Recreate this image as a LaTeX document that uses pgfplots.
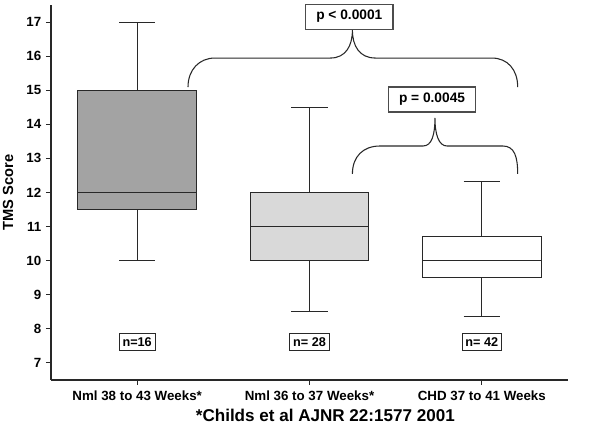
\documentclass[border=0pt]{standalone}
\usepackage{fontspec}
\setmainfont{Liberation Sans}
\usepackage{pgfplots}
\pgfplotsset{compat=1.18}
\definecolor{boxA}{RGB}{163,163,163}
\definecolor{boxB}{RGB}{217,217,217}
\definecolor{lin}{RGB}{40,40,40}
\tikzset{bp/.style={draw=lin, line width=0.8pt, mark=none, solid}}
\begin{document}
\begin{tikzpicture}
\useasboundingbox (0pt,0pt) rectangle (450pt,320.25pt);
\begin{axis}[
  at={(38.25pt,35.25pt)}, anchor=south west,
  scale only axis, width=387.75pt, height=281.25pt,
  xmin=-0.5, xmax=2.5, ymin=6.5, ymax=17.5,
  axis lines=left,
  axis line style={-, line width=0.8pt, color=lin},
  tick style={line width=0.8pt, color=lin},
  tick align=outside, major tick length=3.75pt,
  xtick={0,1,2},
  xticklabels={Nml 38 to 43 Weeks*, Nml 36 to 37 Weeks*, CHD 37 to 41 Weeks},
  ytick={7,8,...,17},
  /pgf/number format/assume math mode=true,
  ticklabel style={font=\bfseries\fontsize{10}{12}\selectfont},
  xticklabel style={yshift=-1pt},
  ylabel={TMS Score},
  ylabel style={font=\bfseries\fontsize{11}{13}\selectfont},
  ylabel shift=3pt,
  clip=false,
]
% group 1: whiskers 10/17, box 11.5-15, median 12
\addplot[bp] coordinates {(0,10) (0,11.5)};
\addplot[bp] coordinates {(0,15) (0,17)};
\addplot[bp] coordinates {(-0.105,10) (0.105,10)};
\addplot[bp] coordinates {(-0.105,17) (0.105,17)};
\addplot[bp, fill=boxA] coordinates {(-0.345,11.5) (0.345,11.5) (0.345,15) (-0.345,15) (-0.345,11.5)};
\addplot[bp] coordinates {(-0.345,12) (0.345,12)};
% group 2: whiskers 8.5/14.5, box 10-12, median 11
\addplot[bp] coordinates {(1,8.5) (1,10)};
\addplot[bp] coordinates {(1,12) (1,14.5)};
\addplot[bp] coordinates {(0.895,8.5) (1.105,8.5)};
\addplot[bp] coordinates {(0.895,14.5) (1.105,14.5)};
\addplot[bp, fill=boxB] coordinates {(0.655,10) (1.345,10) (1.345,12) (0.655,12) (0.655,10)};
\addplot[bp] coordinates {(0.655,11) (1.345,11)};
% group 3: whiskers 8.35/12.32, box 9.5-10.7, median 10
\addplot[bp] coordinates {(2,8.35) (2,9.5)};
\addplot[bp] coordinates {(2,10.7) (2,12.32)};
\addplot[bp] coordinates {(1.895,8.35) (2.105,8.35)};
\addplot[bp] coordinates {(1.895,12.32) (2.105,12.32)};
\addplot[bp, fill=white] coordinates {(1.655,9.5) (2.345,9.5) (2.345,10.7) (1.655,10.7) (1.655,9.5)};
\addplot[bp] coordinates {(1.655,10) (2.345,10)};

% n labels
\tikzset{nlab/.style={draw=lin, line width=0.8pt, fill=white, inner xsep=2.5pt, inner ysep=1pt,
  minimum height=12.75pt, font=\bfseries\fontsize{9.5}{11}\selectfont}}
\node[nlab] at (axis cs:0,7.62) {n=16};
\node[nlab] at (axis cs:1,7.62) {n= 28};
\node[nlab] at (axis cs:2,7.62) {n= 42};

% big brace
\draw[lin, line width=0.8pt]
  (axis cs:0.295,15.094) .. controls (axis cs:0.295,15.6) and (axis cs:0.36,15.944) .. (axis cs:0.451,15.944)
  -- (axis cs:1.121,15.944) .. controls (axis cs:1.21,15.944) and (axis cs:1.249,16.3) .. (axis cs:1.249,16.765)
  .. controls (axis cs:1.249,16.3) and (axis cs:1.29,15.944) .. (axis cs:1.382,15.944)
  -- (axis cs:2.058,15.944) .. controls (axis cs:2.15,15.944) and (axis cs:2.208,15.6) .. (axis cs:2.208,15.094);
% small brace
\draw[lin, line width=0.8pt]
  (axis cs:1.249,12.543) .. controls (axis cs:1.249,13.05) and (axis cs:1.31,13.364) .. (axis cs:1.41,13.364)
  -- (axis cs:1.659,13.364) .. controls (axis cs:1.71,13.364) and (axis cs:1.728,13.7) .. (axis cs:1.728,14.185)
  .. controls (axis cs:1.728,13.7) and (axis cs:1.75,13.364) .. (axis cs:1.798,13.364)
  -- (axis cs:2.121,13.364) .. controls (axis cs:2.19,13.364) and (axis cs:2.208,13.05) .. (axis cs:2.208,12.543);

\tikzset{plab/.style={draw=black!70, line width=0.8pt, fill=white, inner xsep=8pt, inner ysep=1pt,
  minimum height=18.75pt, font=\bfseries\fontsize{10.3}{12}\selectfont}}
\node[plab] at (axis cs:1.231,17.161) {p < 0.0001};
\node[plab] at (axis cs:1.711,14.727) {p = 0.0045};

\node[font=\bfseries\fontsize{12.8}{15}\selectfont] at (axis cs:1.092,5.45) {*Childs et al AJNR 22:1577 2001};
\end{axis}
\end{tikzpicture}
\end{document}
